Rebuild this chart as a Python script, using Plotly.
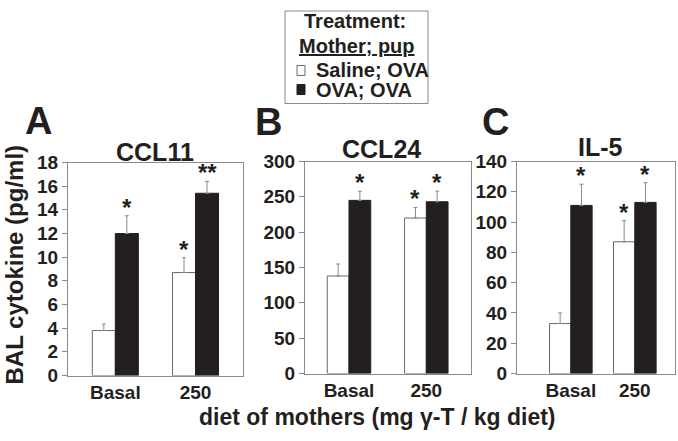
import plotly.graph_objects as go

# ---------------- data ----------------
categories = ["Basal", "250"]

ccl11_saline = [3.8, 8.7]
ccl11_saline_err = [0.55, 1.25]
ccl11_ova = [12.0, 15.4]
ccl11_ova_err = [1.5, 1.0]

ccl24_saline = [138, 220]
ccl24_saline_err = [17, 15]
ccl24_ova = [245, 243]
ccl24_ova_err = [13, 15]

il5_saline = [33, 87]
il5_saline_err = [7, 14]
il5_ova = [111, 113]
il5_ova_err = [14, 13]

ccl11_saline_sig = ["", "*"]
ccl11_ova_sig = ["*", "**"]
ccl24_saline_sig = ["", "*"]
ccl24_ova_sig = ["*", "*"]
il5_saline_sig = ["", "*"]
il5_ova_sig = ["*", "*"]

panel_letters = ["A", "B", "C"]
panel_titles = ["CCL11", "CCL24", "IL-5"]
y_ranges = [[0, 18], [0, 300], [0, 140]]
y_dticks = [2, 50, 20]
series_names = ["Saline; OVA", "OVA; OVA"]

# ---------------- styles ----------------
W, H = 678, 441
FONT = "Liberation Sans, Arial, Helvetica, sans-serif"
TXT = "#231f20"
GRAY = "#8a8a8a"
BLACK_BAR = "#231f20"

# observed vertical placement of the paper in the final picture
Y0, PH = 10.5, 420.0

def px(x):
    return x / W

def py(y):
    return min(1.0, max(0.0, 1 - (y - Y0) / PH))

# panel geometry in pixels: left, right, top, bottom
panels_px = [(68, 243, 163, 376), (305, 471, 162, 374), (517, 675, 162, 374)]
x_ranges = [[-0.590, 1.592], [-0.569, 1.578], [-0.841, 1.628]]
bar_w = [0.287, 0.281, 0.333]

panel_data = [
    (ccl11_saline, ccl11_saline_err, ccl11_ova, ccl11_ova_err, ccl11_saline_sig, ccl11_ova_sig),
    (ccl24_saline, ccl24_saline_err, ccl24_ova, ccl24_ova_err, ccl24_saline_sig, ccl24_ova_sig),
    (il5_saline, il5_saline_err, il5_ova, il5_ova_err, il5_saline_sig, il5_ova_sig),
]

fig = go.Figure()
annotations = []
shapes = []
layout_axes = {}

for i, (sal, sal_e, ova, ova_e, sal_s, ova_s) in enumerate(panel_data):
    sfx = "" if i == 0 else str(i + 1)
    xa, ya = "x" + sfx, "y" + sfx
    w = bar_w[i]
    fig.add_trace(go.Bar(
        x=categories, y=sal, xaxis=xa, yaxis=ya, width=w, offset=-w,
        name=series_names[0], showlegend=False,
        marker=dict(color="white", line=dict(color="#6a6a6a", width=1)),
        error_y=dict(type="data", symmetric=False, array=sal_e,
                     arrayminus=[0] * len(sal_e), color=GRAY, thickness=1, width=2),
    ))
    fig.add_trace(go.Bar(
        x=categories, y=ova, xaxis=xa, yaxis=ya, width=w, offset=0,
        name=series_names[1], showlegend=False,
        marker=dict(color=BLACK_BAR, line=dict(color=BLACK_BAR, width=1)),
        error_y=dict(type="data", symmetric=False, array=ova_e,
                     arrayminus=[0] * len(ova_e), color=GRAY, thickness=1, width=2),
    ))
    L, R, T, B = panels_px[i]
    layout_axes["xaxis" + sfx] = dict(
        domain=[px(L), px(R)], anchor=ya, range=x_ranges[i], type="category",
        showline=True, linecolor=GRAY, linewidth=1, mirror=True,
        ticks="", showgrid=False, zeroline=False,
        tickfont=dict(family=FONT, size=19, color=TXT, weight="bold"),
    )
    layout_axes["yaxis" + sfx] = dict(
        domain=[py(B), py(T)], anchor=xa, range=y_ranges[i], dtick=y_dticks[i],
        showline=True, linecolor=GRAY, linewidth=1, mirror=True,
        ticks="outside", ticklen=5, tickcolor=GRAY, tickwidth=1,
        showgrid=False, zeroline=False,
        tickfont=dict(family=FONT, size=19, color=TXT, weight="bold"),
    )
    # significance stars
    for j, cat in enumerate(categories):
        for vals, errs, sig, off in ((sal, sal_e, sal_s, -w / 2), (ova, ova_e, ova_s, w / 2)):
            if sig[j]:
                annotations.append(dict(
                    x=j + off, y=vals[j] + errs[j], xref=xa, yref=ya,
                    text=sig[j], showarrow=False, yanchor="bottom", xanchor="center",
                    yshift=-7, font=dict(family=FONT, size=24, color=TXT, weight="bold"),
                ))

# panel letters and titles
letter_pos = [(38, 122), (268, 123), (495, 123)]
title_pos = [(155, 152), (381, 150), (600, 148)]
for i in range(3):
    annotations.append(dict(x=px(letter_pos[i][0]), y=py(letter_pos[i][1]), xref="paper", yref="paper",
                            text=panel_letters[i], showarrow=False, xanchor="center", yanchor="middle",
                            font=dict(family=FONT, size=38, color=TXT, weight="bold")))
    annotations.append(dict(x=px(title_pos[i][0]), y=py(title_pos[i][1]), xref="paper", yref="paper",
                            text=panel_titles[i], showarrow=False, xanchor="center", yanchor="middle",
                            font=dict(family=FONT, size=25, color=TXT, weight="bold")))

# axis titles
annotations.append(dict(x=px(14), y=py(265), xref="paper", yref="paper", textangle=-90,
                        text="BAL cytokine (pg/ml)", showarrow=False, xanchor="center", yanchor="middle",
                        font=dict(family=FONT, size=24, color=TXT, weight="bold")))
annotations.append(dict(x=px(377), y=py(417), xref="paper", yref="paper",
                        text="diet of mothers (mg \u03b3-T / kg diet)", showarrow=False,
                        xanchor="center", yanchor="middle",
                        font=dict(family=FONT, size=23, color=TXT, weight="bold")))

# legend box
shapes.append(dict(type="rect", xref="paper", yref="paper", x0=px(285), x1=px(428), y0=py(104), y1=py(11.5),
                   line=dict(color=GRAY, width=1), fillcolor="white"))
annotations.append(dict(x=px(355), y=py(21), xref="paper", yref="paper", text="Treatment:",
                        showarrow=False, xanchor="center", yanchor="middle",
                        font=dict(family=FONT, size=20, color=TXT, weight="bold")))
annotations.append(dict(x=px(357), y=py(46), xref="paper", yref="paper", text="<u>Mother; pup</u>",
                        showarrow=False, xanchor="center", yanchor="middle",
                        font=dict(family=FONT, size=20, color=TXT, weight="bold")))
shapes.append(dict(type="rect", xref="paper", yref="paper", x0=px(297), x1=px(305), y0=py(76), y1=py(66),
                   line=dict(color="#6a6a6a", width=1), fillcolor="white"))
shapes.append(dict(type="rect", xref="paper", yref="paper", x0=px(297), x1=px(305), y0=py(95), y1=py(85),
                   line=dict(color=BLACK_BAR, width=1), fillcolor=BLACK_BAR))
annotations.append(dict(x=px(314), y=py(71), xref="paper", yref="paper", text=series_names[0],
                        showarrow=False, xanchor="left", yanchor="middle",
                        font=dict(family=FONT, size=20, color=TXT, weight="bold")))
annotations.append(dict(x=px(314), y=py(90), xref="paper", yref="paper", text=series_names[1],
                        showarrow=False, xanchor="left", yanchor="middle",
                        font=dict(family=FONT, size=20, color=TXT, weight="bold")))

fig.update_layout(
    width=W, height=H, margin=dict(l=0, r=0, t=0, b=0),
    paper_bgcolor="white", plot_bgcolor="white", barmode="overlay",
    annotations=annotations, shapes=shapes, showlegend=False,
    **layout_axes,
)
fig.write_html(
    "out.html",
    config={"displayModeBar": False},
    post_script="document.body.style.margin='0';document.body.style.overflow='hidden';",
)
